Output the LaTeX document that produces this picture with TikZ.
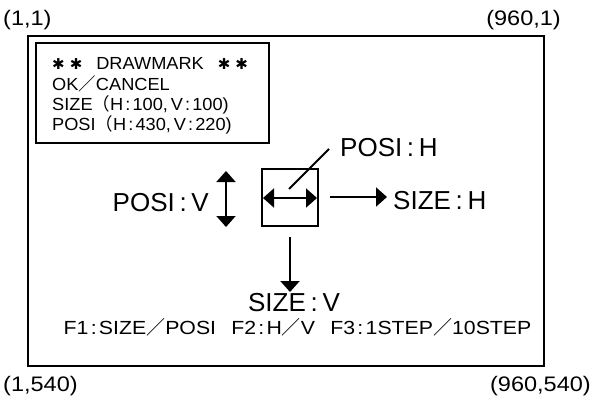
\documentclass[tikz,border=0pt]{standalone}
\usepackage{fontspec}
\setmainfont{Liberation Sans}
\newfontfamily\jp{Noto Sans CJK JP}
\newfontfamily\dv{DejaVu Sans}
\newfontfamily\wide[FakeStretch=1.04]{Liberation Sans}
\newfontfamily\wider[FakeStretch=1.12]{Liberation Sans}
\usetikzlibrary{arrows.meta}
\tikzset{
  box/.style={draw, rectangle, inner sep=0pt},
  big/.style={font=\fontsize{26}{26}\selectfont, inner sep=0pt},
  small/.style={font=\wide\fontsize{17.5}{17.5}\selectfont, inner sep=0pt, anchor=base west},
  keysty/.style={font=\wider\fontsize{19}{19}\selectfont, inner sep=0pt},
  corner/.style={font=\wider\fontsize{21}{21}\selectfont, inner sep=0pt},
  arr/.style={line width=2pt, -{Triangle[length=11pt,width=19pt]}},
  darr/.style={line width=2pt, {Triangle[length=11pt,width=19pt]}-{Triangle[length=11pt,width=19pt]}},
}
\newcommand{\bigcolon}{\hspace{0.18em}:\hspace{0.18em}}
\newcommand{\smcolon}{\hspace{0.12em}:\hspace{0.12em}}
\newcommand{\fslash}{{\jp ／}}
\newcommand{\fparen}{{\jp （}}
\newcommand{\fstar}{{\dv\fontsize{15}{15}\selectfont ✱}}
\begin{document}
\begin{tikzpicture}[x=1pt,y=-1pt]
\useasboundingbox (0,0) rectangle (594,396);
% frame
\node (frame) [box, line width=2pt, minimum width=516.5pt, minimum height=330pt] at (285.75,201) {};
% info box
\node (info) [box, line width=1.3pt, minimum width=233pt, minimum height=100pt] at (152.5,93) {};
\node (l1) [small] at (52,70) {\fstar\hspace{5pt}\fstar\hspace{14pt}DRAWMARK\hspace{14pt}\fstar\hspace{5pt}\fstar};
\node (l2) [small] at (52,90) {OK\fslash CANCEL};
\node (l3) [small] at (52,110) {SIZE\fparen H\smcolon 100,\,V\smcolon 100)};
\node (l4) [small] at (52,130) {POSI\fparen H\smcolon 430,\,V\smcolon 220)};
% central square
\node (sq) [box, line width=2pt, minimum width=56pt, minimum height=57pt] at (290,197.5) {};
\coordinate (hl) at (263,198);
\coordinate (hr) at (317,198);
\draw[darr] (hl) -- (hr);
\coordinate (d1) at (289,189);
\coordinate (d2) at (329,149);
\draw[line width=2pt] (d1) -- (d2);
\node (posih) [big, anchor=base west] at (340,156) {POSI\bigcolon H};
\node (posiv) [big, anchor=base east] at (209,211) {POSI\bigcolon V};
\coordinate (vt) at (226,171);
\coordinate (vb) at (226,227);
\draw[darr] (vt) -- (vb);
\coordinate (ra) at (330,197);
\coordinate (rb) at (387,197);
\draw[arr] (ra) -- (rb);
\node (sizeh) [big, anchor=base west] at (393,209) {SIZE\bigcolon H};
\coordinate (da) at (290,237);
\coordinate (db) at (290,292);
\draw[arr] (da) -- (db);
\node (sizev) [big, anchor=base] at (294,311) {SIZE\bigcolon V};
\node (keys) [keysty, anchor=base] at (297.5,334) {F1\smcolon SIZE\fslash POSI\hspace{0.8em}F2\smcolon H\fslash V\hspace{0.8em}F3\smcolon 1STEP\fslash 10STEP};
% corner labels
\node (c11) [corner, anchor=base west] at (3,26) {(1,1)};
\node (c9601) [corner, anchor=base east] at (561,26) {(960,1)};
\node (c1540) [corner, anchor=base west] at (3,391) {(1,540)};
\node (c960540) [corner, anchor=base east] at (591,391) {(960,540)};
\end{tikzpicture}
\end{document}
